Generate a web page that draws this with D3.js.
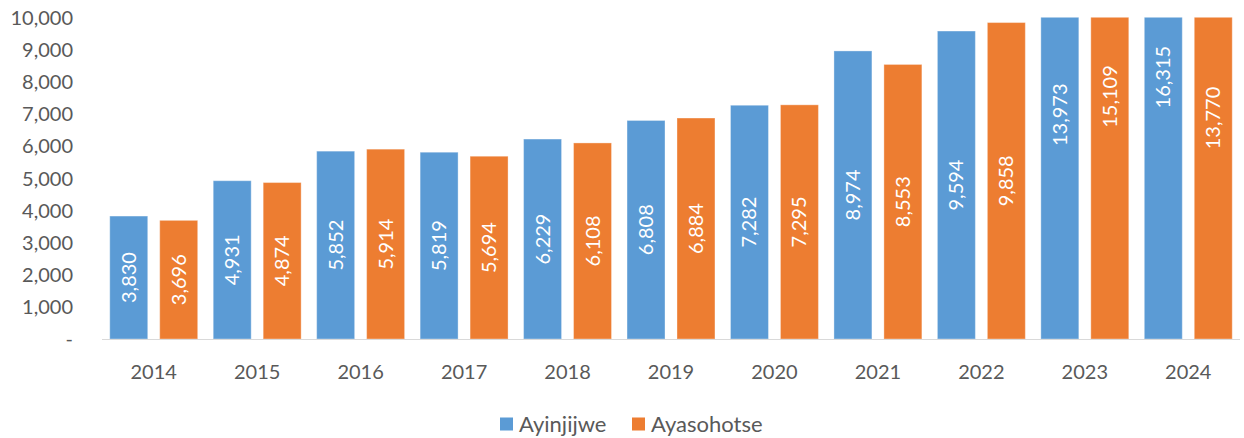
<!DOCTYPE html>
<html>
<head>
<meta charset="utf-8">
<script src="https://cdn.jsdelivr.net/npm/d3@7"></script>
<style>
  body { margin: 0; background: #fff; }
  text { font-family: Lato, "Open Sans", sans-serif; }
</style>
</head>
<body>
<div id="chart"></div>
<script>
const years = ['2014','2015','2016','2017','2018','2019','2020','2021','2022','2023','2024'];
const seriesNames = ['Ayinjijwe', 'Ayasohotse'];
const ayinjijwe = [3830, 4931, 5852, 5819, 6229, 6808, 7282, 8974, 9594, 13973, 16315];
const ayasohotse = [3696, 4874, 5914, 5694, 6108, 6884, 7295, 8553, 9858, 15109, 13770];
const yTicks = [0, 1000, 2000, 3000, 4000, 5000, 6000, 7000, 8000, 9000, 10000];
const colors = ['#5B9BD5', '#ED7D31'];

const W = 1244, H = 438;
const rows = years.map((y, i) => ({year: y, values: [ayinjijwe[i], ayasohotse[i]]}));

var svg = d3.select('#chart').append('svg')
  .attr('width', W).attr('height', H);

var x0 = d3.scaleBand().domain(years).range([102, 1240])
  .paddingInner(0.15).paddingOuter(0.075);
var x1 = d3.scaleBand().domain([0, 1]).range([0, x0.bandwidth()])
  .paddingInner(0.24).paddingOuter(0);
var y = d3.scaleLinear().domain([0, 10000]).range([339, 18]);

svg.append('defs').append('clipPath').attr('id', 'plot')
  .append('rect').attr('x', 0).attr('y', 17.5).attr('width', W).attr('height', 339 - 17.5);

// y axis labels
svg.append('g').selectAll('text').data(yTicks).enter().append('text')
  .attr('x', 73).attr('y', d => y(d)).attr('dy', '0.35em')
  .attr('text-anchor', 'end')
  .attr('fill', '#595959').attr('font-size', 20)
  .text(d => d === 0 ? '-' : d3.format(',')(d));

// bars
var groups = svg.append('g').attr('clip-path', 'url(#plot)')
  .selectAll('g').data(rows).enter().append('g')
  .attr('transform', d => `translate(${x0(d.year)},0)`);

groups.selectAll('rect').data(d => d.values).enter().append('rect')
  .attr('x', (d, i) => x1(i))
  .attr('width', x1.bandwidth())
  .attr('y', d => y(d))
  .attr('height', d => y(0) - y(d))
  .attr('fill', (d, i) => colors[i])
  .attr('stroke', '#fff').attr('stroke-opacity', 0.35).attr('stroke-width', 1);

// value labels, centred on the full bar
var labels = svg.append('g').selectAll('g').data(rows).enter().append('g')
  .attr('transform', d => `translate(${x0(d.year)},0)`);
labels.selectAll('text').data(d => d.values).enter().append('text')
  .attr('transform', (d, i) => `translate(${x1(i) + x1.bandwidth() / 2},${y(d / 2)}) rotate(-90)`)
  .attr('text-anchor', 'middle').attr('dy', '0.35em')
  .attr('fill', '#fff').attr('font-size', 20)
  .text(d => d3.format(',')(d));

// x axis line
svg.append('line')
  .attr('x1', 102).attr('x2', 1240).attr('y1', 339.5).attr('y2', 339.5)
  .attr('stroke', '#D9D9D9').attr('stroke-width', 1);

svg.append('g').selectAll('text').data(years).enter().append('text')
  .attr('x', d => x0(d) + x0.bandwidth() / 2).attr('y', 372).attr('dy', '0.35em')
  .attr('text-anchor', 'middle')
  .attr('fill', '#595959').attr('font-size', 20)
  .text(d => d);

// legend
var legendX = [500, 632];
var legend = svg.append('g').selectAll('g').data(seriesNames).enter().append('g')
  .attr('transform', (d, i) => `translate(${legendX[i]},424)`);
legend.append('rect').attr('x', 0).attr('y', -6.5).attr('width', 13).attr('height', 13)
  .attr('fill', (d, i) => colors[i]);
legend.append('text').attr('x', 19).attr('dy', '0.35em')
  .attr('fill', '#595959').attr('font-size', 22)
  .text(d => d);
</script>
</body>
</html>
